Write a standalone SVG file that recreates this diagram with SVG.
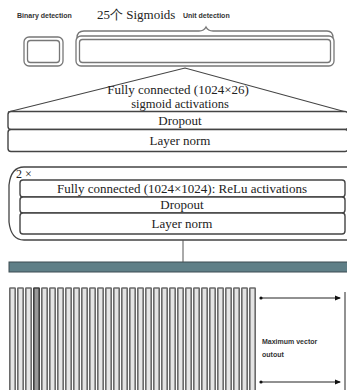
<svg xmlns="http://www.w3.org/2000/svg" width="347" height="390" viewBox="0 0 347 390">
<style>
.serif{font-family:"Liberation Serif","Times New Roman",serif;font-size:13px;fill:#222}
.lbl{font-family:"Liberation Sans",Arial,sans-serif;font-size:7px;font-weight:bold;fill:#333}
.box{fill:#fff;stroke:#444;stroke-width:1.4}
.dbl{fill:none;stroke:#777;stroke-width:1.3}
.line{fill:none;stroke:#555;stroke-width:1}
.bar{fill:#e4e4e4;stroke:#6a6a6a;stroke-width:1.6}
</style>
<defs>
<marker id="ah" markerWidth="6" markerHeight="6" refX="5" refY="3" orient="auto" markerUnits="userSpaceOnUse"><path d="M0,0.5 L6,3 L0,5.5 z" fill="#111"/></marker>
<marker id="dot" markerWidth="4" markerHeight="4" refX="2" refY="2" markerUnits="userSpaceOnUse"><circle cx="2" cy="2" r="1.6" fill="#111"/></marker>
</defs>
<rect width="347" height="390" fill="#fff"/>

<g id="header">
<text class="lbl" x="17" y="18">Binary detection</text>
<text class="serif" x="97" y="19">25个 Sigmoids</text>
<text class="lbl" x="183" y="18">Unit detection</text>
</g>

<g id="binary-box">
<rect class="dbl" x="24" y="37" width="39" height="29" rx="5"/>
<rect class="dbl" x="27.5" y="40.5" width="32" height="22" rx="3"/>
</g>

<g id="unit-box">
<path class="dbl" d="M77,38 Q77,31 84,31 H199 Q204,31 206,27 Q208,31 213,31 H327 Q333,31 333,38"/>
<rect class="dbl" x="76" y="36" width="258" height="30" rx="5"/>
<rect class="dbl" x="79.5" y="39.5" width="251" height="23" rx="3"/>
</g>

<g id="output-block">
<path d="M8,112 L185,68 L346,112" fill="none" stroke="#444" stroke-width="1.1"/>
<text class="serif" x="178" y="94" text-anchor="middle">Fully connected (1024×26)</text>
<text class="serif" x="180" y="107.5" text-anchor="middle" style="font-size:12.5px">sigmoid activations</text>
</g>
<g id="dropout-1">
<rect class="box" x="8" y="111.5" width="340" height="18" rx="3"/>
<text class="serif" x="180" y="125" text-anchor="middle">Dropout</text>
</g>
<g id="layernorm-1">
<rect class="box" x="8" y="129.5" width="340" height="22" rx="3"/>
<text class="serif" x="180" y="145" text-anchor="middle">Layer norm</text>
</g>

<g id="repeat-block">
<path d="M348,167 H24 Q11,167 9,185 V222 Q11,240 24,240 H348" fill="none" stroke="#444" stroke-width="1.3"/>
<text class="serif" x="16" y="178" style="font-size:12px">2 ×</text>
</g>
<g id="fc-2">
<rect class="box" x="20" y="180" width="325" height="17" rx="3"/>
<text class="serif" x="182" y="192.5" text-anchor="middle">Fully connected (1024×1024): ReLu activations</text>
</g>
<g id="dropout-2">
<rect class="box" x="20" y="197" width="325" height="16" rx="3"/>
<text class="serif" x="182" y="209" text-anchor="middle">Dropout</text>
</g>
<g id="layernorm-2">
<rect class="box" x="20" y="213" width="325" height="21" rx="3"/>
<text class="serif" x="182" y="228" text-anchor="middle">Layer norm</text>
</g>

<g id="teal-bar">
<rect x="9" y="262" width="340" height="10" fill="#5f7f87" stroke="#3c4d52" stroke-width="1"/>
</g>

<g id="vectors">
<rect class="bar" x="9.8" y="288" width="5.4" height="104" rx="0.5"/>
<rect class="bar" x="17.8" y="288" width="5.4" height="104" rx="0.5"/>
<rect class="bar" x="25.8" y="288" width="5.4" height="104" rx="0.5"/>
<rect class="bar" x="33.8" y="288" width="5.4" height="104" rx="0.5" style="stroke:#3f3f3f;fill:#999"/>
<rect class="bar" x="41.8" y="288" width="5.4" height="104" rx="0.5"/>
<rect class="bar" x="49.8" y="288" width="5.4" height="104" rx="0.5"/>
<rect class="bar" x="57.8" y="288" width="5.4" height="104" rx="0.5"/>
<rect class="bar" x="65.8" y="288" width="5.4" height="104" rx="0.5"/>
<rect class="bar" x="73.8" y="288" width="5.4" height="104" rx="0.5"/>
<rect class="bar" x="81.8" y="288" width="5.4" height="104" rx="0.5"/>
<rect class="bar" x="89.8" y="288" width="5.4" height="104" rx="0.5"/>
<rect class="bar" x="97.8" y="288" width="5.4" height="104" rx="0.5"/>
<rect class="bar" x="105.8" y="288" width="5.4" height="104" rx="0.5"/>
<rect class="bar" x="113.8" y="288" width="5.4" height="104" rx="0.5"/>
<rect class="bar" x="121.8" y="288" width="5.4" height="104" rx="0.5"/>
<rect class="bar" x="129.8" y="288" width="5.4" height="104" rx="0.5"/>
<rect class="bar" x="137.8" y="288" width="5.4" height="104" rx="0.5"/>
<rect class="bar" x="145.8" y="288" width="5.4" height="104" rx="0.5"/>
<rect class="bar" x="153.8" y="288" width="5.4" height="104" rx="0.5"/>
<rect class="bar" x="161.8" y="288" width="5.4" height="104" rx="0.5"/>
<rect class="bar" x="169.8" y="288" width="5.4" height="104" rx="0.5"/>
<rect class="bar" x="177.8" y="288" width="5.4" height="104" rx="0.5"/>
<rect class="bar" x="185.8" y="288" width="5.4" height="104" rx="0.5"/>
<rect class="bar" x="193.8" y="288" width="5.4" height="104" rx="0.5"/>
<rect class="bar" x="201.8" y="288" width="5.4" height="104" rx="0.5"/>
<rect class="bar" x="209.8" y="288" width="5.4" height="104" rx="0.5"/>
<rect class="bar" x="217.8" y="288" width="5.4" height="104" rx="0.5"/>
<rect class="bar" x="225.8" y="288" width="5.4" height="104" rx="0.5"/>
<rect class="bar" x="233.8" y="288" width="5.4" height="104" rx="0.5"/>
<rect class="bar" x="241.8" y="288" width="5.4" height="104" rx="0.5"/>
<rect class="bar" x="249.8" y="288" width="5.4" height="104" rx="0.5"/>
</g>

<g id="max-label">
<text class="lbl" x="262" y="344">Maximum vector</text>
<text class="lbl" x="262" y="357">outout</text>
<line x1="345" y1="292" x2="345" y2="392" stroke="#777" stroke-width="1.6"/>
</g>

<g id="connectors">
<line class="line" x1="183" y1="240" x2="183" y2="262"/>
<line x1="261" y1="298" x2="340" y2="298" stroke="#222" stroke-width="1" marker-start="url(#dot)" marker-end="url(#ah)"/>
<line x1="261" y1="382" x2="340" y2="382" stroke="#222" stroke-width="1" marker-start="url(#dot)" marker-end="url(#ah)"/>
</g>
</svg>
